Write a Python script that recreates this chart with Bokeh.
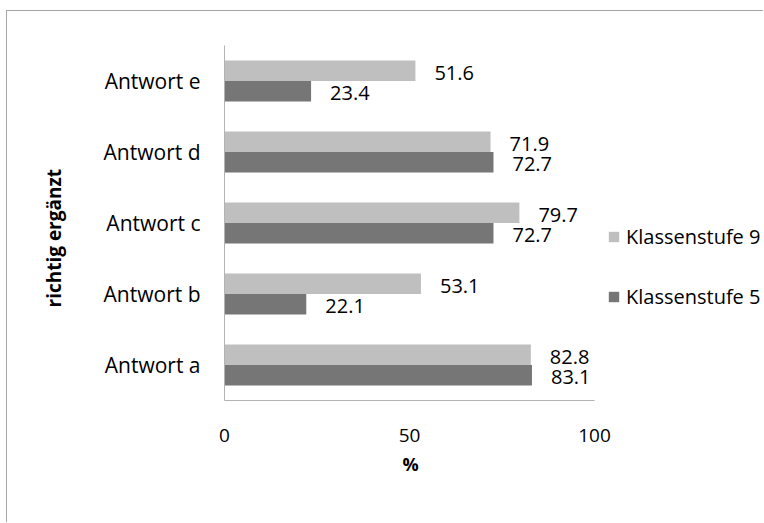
from bokeh.plotting import figure
from bokeh.models import FactorRange, Range1d, Legend, LegendItem, ColumnDataSource, Title
from bokeh.transform import dodge
from bokeh.embed import file_html
from bokeh.resources import INLINE
from bokeh.core.properties import value

# Survey results: share of pupils (%) who completed each answer correctly
categories = ["Antwort a", "Antwort b", "Antwort c", "Antwort d", "Antwort e"]
klassenstufe_9 = [82.8, 53.1, 79.7, 71.9, 51.6]
klassenstufe_5 = [83.1, 22.1, 72.7, 72.7, 23.4]
x_ticks = [0, 50, 100]
series_names = ["Klassenstufe 9", "Klassenstufe 5"]
x_title = "%"
y_title = "richtig ergänzt"

FONT = "Open Sans"
LIGHT = "#bfbfbf"
DARK = "#767676"
AXIS_GRAY = "#b3b3b3"

# layout: the value axis (0..100) covers 370 px; the frame continues to the
# right edge so the legend can sit beside the bars
W, H = 757, 512
LEFT, TOP, BOTTOM = 217, 34, 123
AXIS_PX = 370
frame_w = W - LEFT
x_end = 100 * frame_w / AXIS_PX

src = ColumnDataSource(dict(
    cat=categories,
    k9=klassenstufe_9,
    k5=klassenstufe_5,
    k9_txt=[f"{v:.1f}" for v in klassenstufe_9],
    k5_txt=[f"{v:.1f}" for v in klassenstufe_5],
))

p = figure(
    width=W, height=H,
    y_range=FactorRange(*categories),
    x_range=Range1d(0, x_end),
    output_backend="svg", toolbar_location=None,
    min_border_left=LEFT, min_border_right=0,
    min_border_top=TOP, min_border_bottom=BOTTOM,
)
p.margin = (11, 0, 0, 7)
# thin frame line along the left and top of the chart box
p.styles = {"box-shadow": "-1px -1px 0 0 #a6a6a6"}
p.outline_line_color = None
p.xgrid.visible = False
p.ygrid.visible = False
p.background_fill_color = "white"
p.border_fill_color = "white"

bar_h = 0.29
r9 = p.hbar(y=dodge("cat", bar_h / 2, range=p.y_range), right="k9", left=0,
            height=bar_h, source=src, fill_color=LIGHT, line_color=None)
r5 = p.hbar(y=dodge("cat", -bar_h / 2, range=p.y_range), right="k5", left=0,
            height=bar_h, source=src, fill_color=DARK, line_color=None)

# value labels to the right of every bar
for col, txt, off in (("k9", "k9_txt", bar_h / 2), ("k5", "k5_txt", -bar_h / 2)):
    p.text(x=col, y=dodge("cat", off, range=p.y_range), text=txt, source=src,
           x_offset=19, y_offset=2, text_baseline="middle", text_align="left",
           text_font=value(FONT), text_font_size="20px", text_color="black")

# x axis (line only spans 0..100)
xa = p.xaxis[0]
xa.ticker = x_ticks
xa.bounds = (0, 100)
xa.axis_line_color = AXIS_GRAY
xa.major_tick_line_color = None
xa.minor_tick_line_color = None
xa.major_label_text_font = FONT
xa.major_label_text_font_size = "19px"
xa.major_label_text_color = "black"
xa.major_label_standoff = 22

# y axis
ya = p.yaxis[0]
ya.axis_line_color = AXIS_GRAY
ya.major_tick_line_color = None
ya.minor_tick_line_color = None
ya.major_label_text_font = FONT
ya.major_label_text_font_size = "21px"
ya.major_label_text_color = "black"
ya.major_label_standoff = 18

# axis titles, placed as side titles so they can be shifted freely
p.add_layout(Title(text=x_title, align="left", offset=178, standoff=10,
                   text_font=FONT, text_font_size="18px", text_font_style="bold",
                   text_color="black"), "below")
p.add_layout(Title(text=y_title, align="left", offset=93, standoff=63,
                   vertical_align="top",
                   text_font=FONT, text_font_size="19px", text_font_style="bold",
                   text_color="black"), "left")

legend = Legend(
    items=[LegendItem(label=series_names[0], renderers=[r9]),
           LegendItem(label=series_names[1], renderers=[r5])],
    location=(383, 90),
    glyph_width=13, glyph_height=13, label_standoff=6,
    label_text_font=FONT, label_text_font_size="20px", label_text_color="black",
    spacing=33, padding=0, margin=0,
    border_line_color=None, background_fill_alpha=0,
)
p.add_layout(legend, "center")

open("out.html", "w").write(file_html(p, INLINE))
